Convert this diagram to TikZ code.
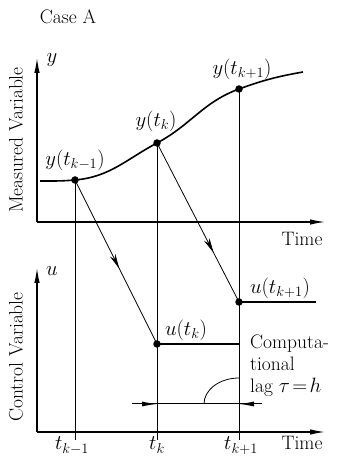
\documentclass[tikz,border=0pt]{standalone}
\usetikzlibrary{arrows.meta,decorations.markings}
\begin{document}
\begin{tikzpicture}[x=1pt,y=1pt,
  font=\fontsize{19.5}{22}\selectfont,
  dot/.style={circle,fill,inner sep=0pt,minimum size=7.5pt},
  axis/.style={line width=1.2pt,-{Latex[length=15pt,width=5.5pt]}},
  thin line/.style={line width=0.8pt},
  hold/.style={line width=2pt},
  dim/.style={line width=1pt,-{Latex[length=15pt,width=5pt]}},
  mid arrow/.style={decoration={markings,
    mark=at position #1 with {\arrow{Stealth[length=15pt,width=6pt]}}},
    postaction={decorate}}]
\useasboundingbox (0,0) rectangle (338,457);
% axes
\coordinate (o1) at (37,235);
\coordinate (ytop) at (37,399);
\coordinate (x1end) at (325,235);
\coordinate (o2) at (37,25);
\coordinate (utop) at (37,189);
\coordinate (x2end) at (325,25);
\draw[axis] (o1) -- (ytop);
\draw[axis] (o1) -- (x1end);
\draw[axis] (o2) -- (utop);
\draw[axis] (o2) -- (x2end);
% measured variable
\coordinate (ystart) at (40,276);
\coordinate (yend) at (303,385);
\node[dot] (ya) at (75,277) {};
\node[dot] (yb) at (157,314) {};
\node[dot] (yc) at (239,368) {};
\draw[line width=1.6pt] (ystart) to[out=0,in=185] (ya.center)
  to[out=5,in=208] (yb.center) to[out=28,in=200] (yc.center)
  to[out=20,in=190] (yend);
% sampling instants
\coordinate (ba) at (75,17);
\coordinate (bb) at (157,17);
\coordinate (bc) at (239,17);
\draw[thin line] (ya.center) -- (ba);
\draw[thin line] (yb.center) -- (bb);
\draw[thin line] (yc.center) -- (bc);
% control variable
\node[dot] (ub) at (157,113) {};
\node[dot] (uc) at (239,155) {};
\coordinate (ubend) at (239,113);
\coordinate (ucend) at (316,155);
\draw[hold] (ub.center) -- (ubend);
\draw[hold] (uc.center) -- (ucend);
\draw[thin line,mid arrow=0.54] (ya.center) -- (ub.center);
\draw[thin line,mid arrow=0.69] (yb.center) -- (uc.center);
% computational lag
\coordinate (dl) at (132,53);
\coordinate (dr) at (262,53);
\coordinate (dka) at (157,53);
\coordinate (dkb) at (239,53);
\coordinate (lagfoot) at (204,53);
\draw[line width=1pt] (dl) -- (dr);
\draw[dim] (dl) -- (dka);
\draw[dim] (dr) -- (dkb);
\draw[thin line] (lagfoot) arc[start angle=180,end angle=90,x radius=35,y radius=26];
\node[align=left,anchor=west,inner sep=0pt] (lag) at (250,91) {Computa-\\tional\\lag $\tau\!=\!h$};
% labels
\node (casea) at (68,440) {Case A};
\node (ylab) at (52,397) {$y$};
\node (ulab) at (52,186) {$u$};
\node[rotate=90] (meas) at (16,317) {Measured Variable};
\node[rotate=90] (ctrl) at (16,100) {Control Variable};
\node (time1) at (302,218) {Time};
\node[anchor=base] (time2) at (302,7) {Time};
\node (yalab) at (75,297) {$y(t_{k-1})$};
\node (yblab) at (156,336) {$y(t_k)$};
\node (yclab) at (242,388) {$y(t_{k+1})$};
\node (ublab) at (186,127) {$u(t_k)$};
\node (uclab) at (280,169) {$u(t_{k+1})$};
\node[anchor=base] (ta) at (72,7) {$t_{k-1}$};
\node[anchor=base] (tb) at (157,7) {$t_k$};
\node[anchor=base] (tc) at (241,7) {$t_{k+1}$};
\end{tikzpicture}
\end{document}
